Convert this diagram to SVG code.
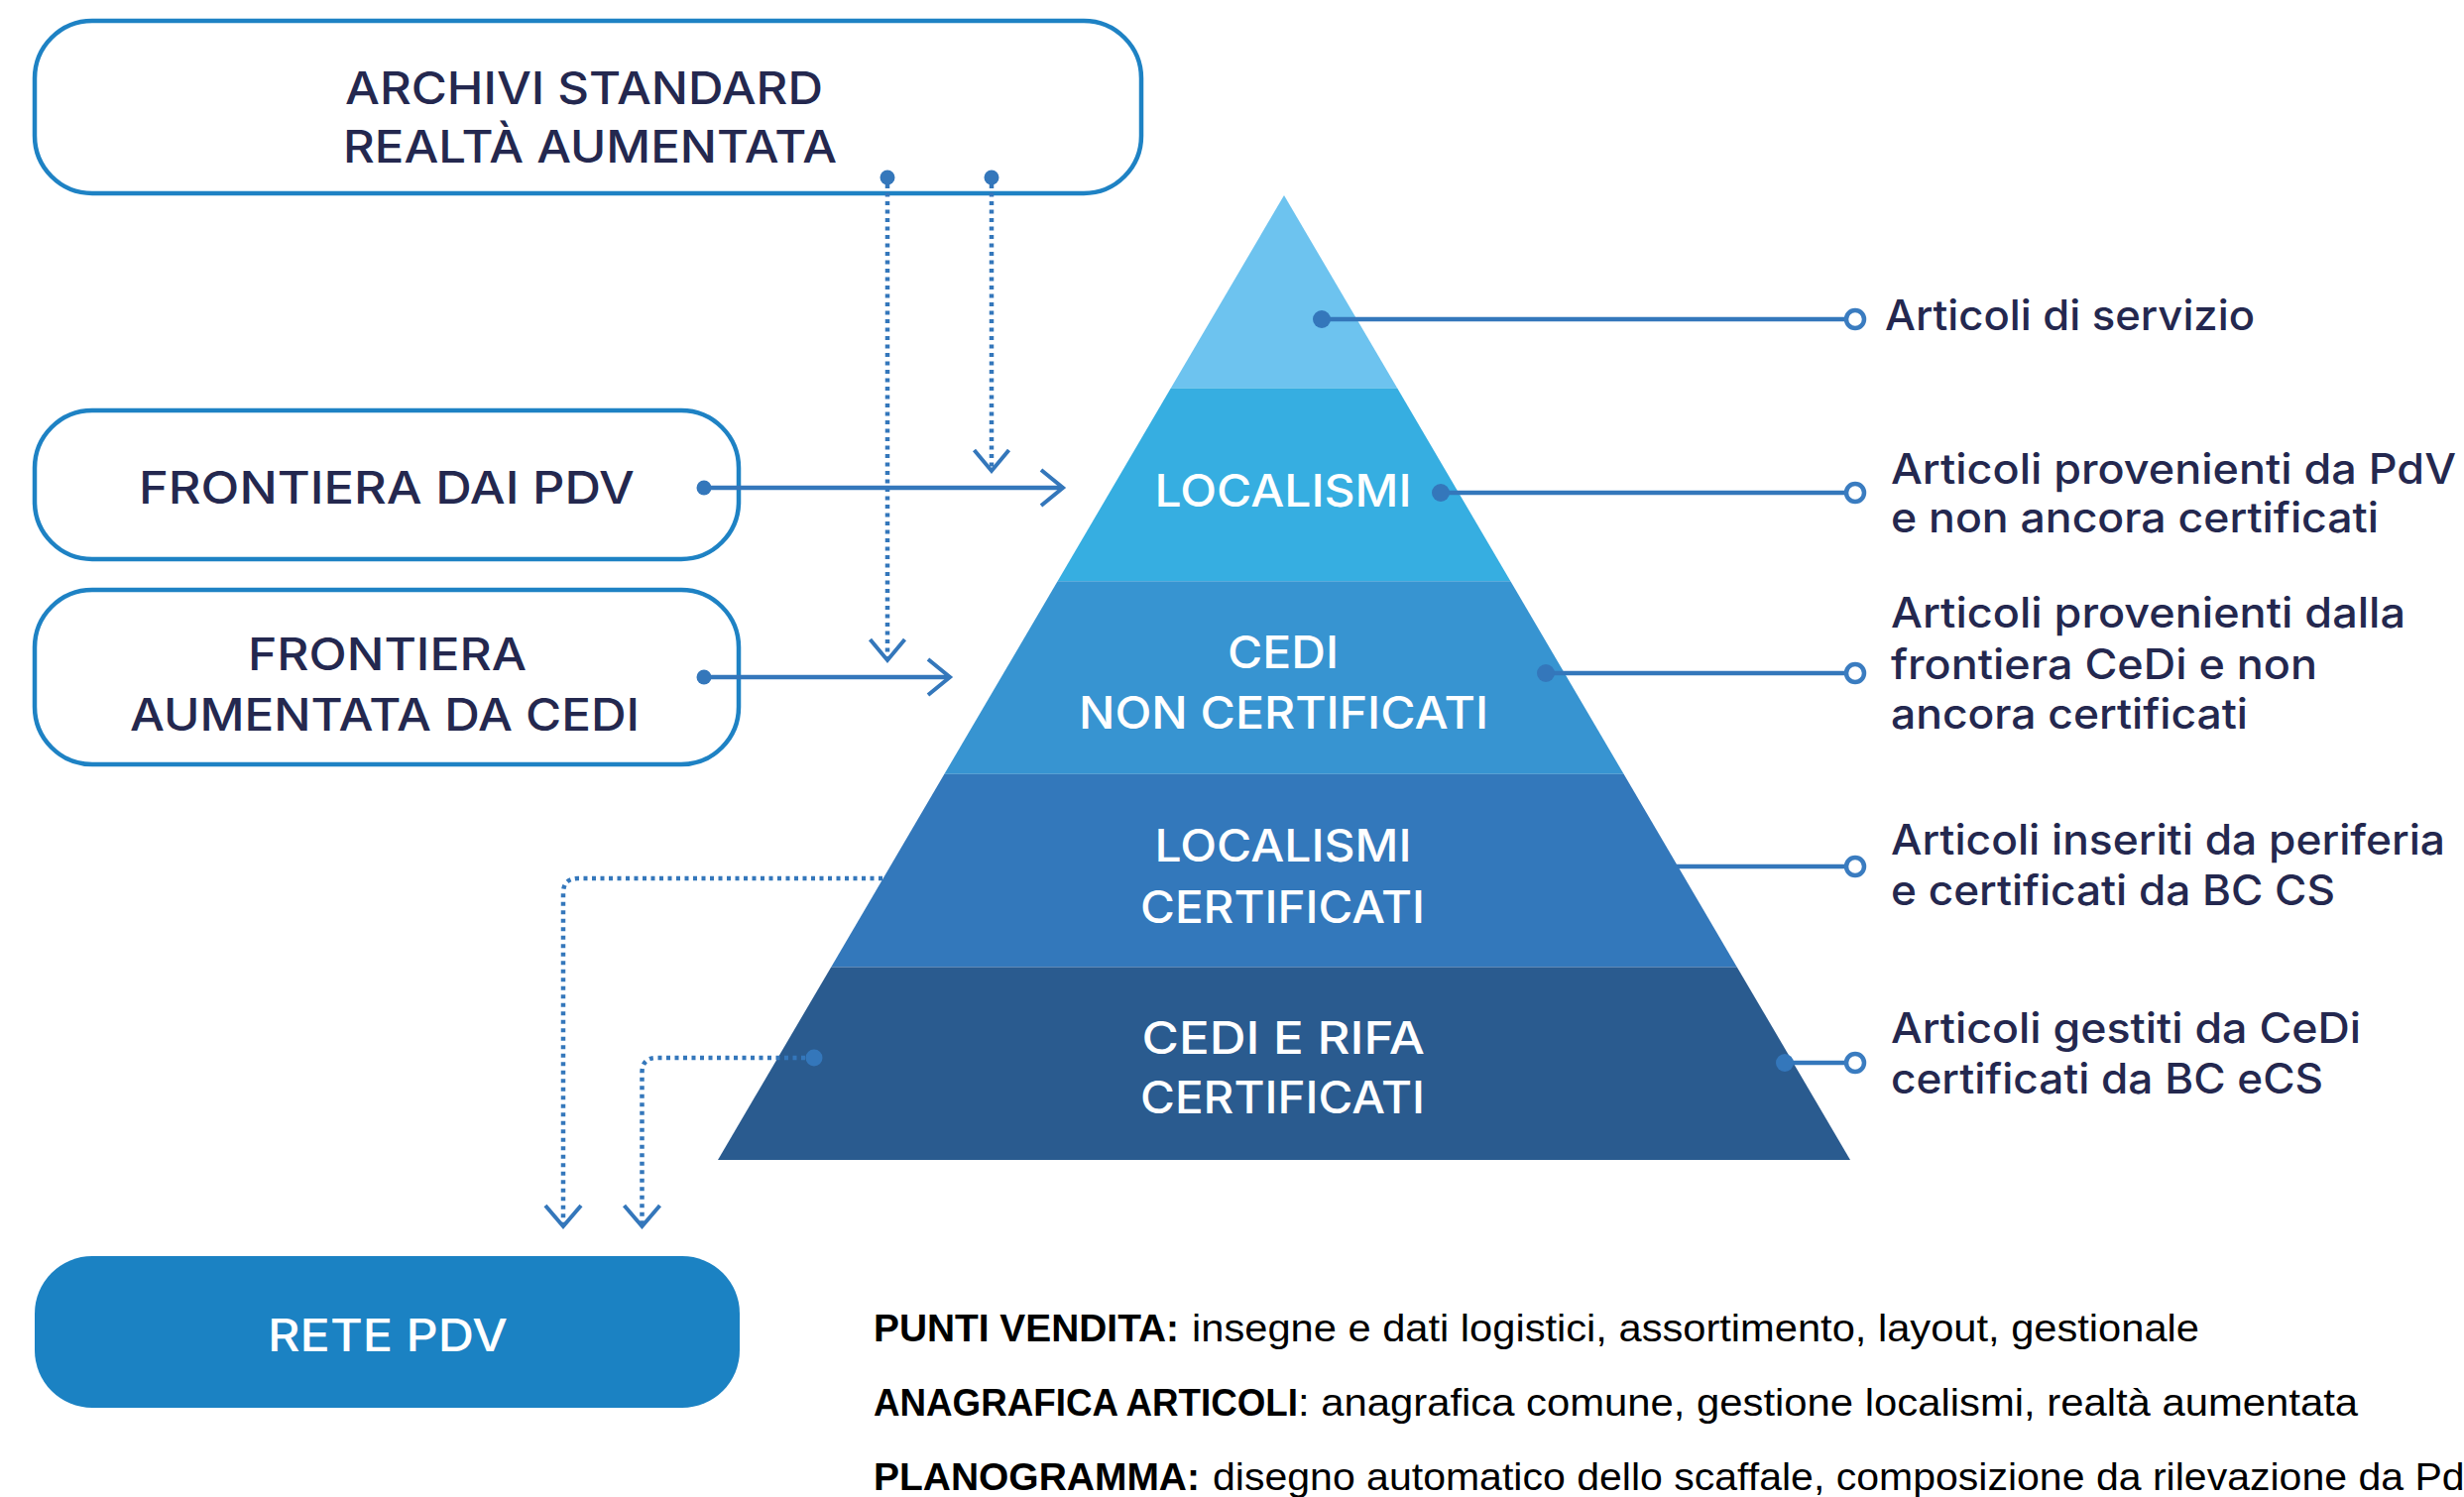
<svg xmlns="http://www.w3.org/2000/svg" width="2485" height="1510" viewBox="0 0 2485 1510">
<style>
.box{fill:#fff;stroke:#1e82c4;stroke-width:4.5}
.lbl{font-family:Inter,"Noto Sans","Liberation Sans",sans-serif;font-weight:500;font-size:45px;fill:#24284f}
.wl{font-family:Inter,"Noto Sans","Liberation Sans",sans-serif;font-weight:500;font-size:45px;fill:#fff}
.rt{font-family:Inter,"Noto Sans","Liberation Sans",sans-serif;font-weight:500;font-size:42px;fill:#24284f}
.bt{font-family:"Liberation Sans",Arial,sans-serif;font-size:38px;fill:#000}
.b{font-weight:bold}
.ln{fill:none;stroke:#3477bb;stroke-width:4.5}
.dt{fill:none;stroke:#3477bb;stroke-width:4.5;stroke-dasharray:4 4.5}
.ah{fill:none;stroke:#3477bb;stroke-width:4;stroke-linejoin:miter}
.dot{fill:#3477bb}
.oc{fill:#fff;stroke:#3a7cc0;stroke-width:4.5}
</style>
<rect width="2485" height="1510" fill="#fff"/>

<g id="pyramid">
<polygon points="1295,197 1409.2,391.6 1180.8,391.6" fill="#6dc3ef"/>
<polygon points="1180.8,391.6 1409.2,391.6 1523.4,586.2 1066.6,586.2" fill="#36aee1"/>
<polygon points="1066.6,586.2 1523.4,586.2 1637.6,780.8 952.4,780.8" fill="#3794d1"/>
<polygon points="952.4,780.8 1637.6,780.8 1751.8,975.4 838.2,975.4" fill="#3378bb"/>
<polygon points="838.2,975.4 1751.8,975.4 1866,1170 724,1170" fill="#2a5b8f"/>
</g>
<g id="band-localismi"><text class="wl" x="1164.5" y="511" textLength="259" lengthAdjust="spacingAndGlyphs">LOCALISMI</text></g>
<g id="band-cedi-non-cert">
<text class="wl" x="1238" y="674" textLength="112" lengthAdjust="spacingAndGlyphs">CEDI</text>
<text class="wl" x="1088" y="735" textLength="413" lengthAdjust="spacingAndGlyphs">NON CERTIFICATI</text>
</g>
<g id="band-localismi-cert">
<text class="wl" x="1164.5" y="869" textLength="259" lengthAdjust="spacingAndGlyphs">LOCALISMI</text>
<text class="wl" x="1150" y="931" textLength="287" lengthAdjust="spacingAndGlyphs">CERTIFICATI</text>
</g>
<g id="band-cedi-rifa">
<text class="wl" x="1151.5" y="1063" textLength="285.5" lengthAdjust="spacingAndGlyphs">CEDI E RIFA</text>
<text class="wl" x="1150" y="1123" textLength="287" lengthAdjust="spacingAndGlyphs">CERTIFICATI</text>
</g>

<g id="archivi">
<rect class="box" x="35" y="21" width="1116" height="174" rx="58" ry="58"/>
<text class="lbl" x="348" y="105" textLength="482" lengthAdjust="spacingAndGlyphs">ARCHIVI STANDARD</text>
<text class="lbl" x="346" y="164" textLength="498" lengthAdjust="spacingAndGlyphs">REALTÀ AUMENTATA</text>
</g>
<g id="frontiera-pdv">
<rect class="box" x="35" y="414" width="710" height="150" rx="58" ry="58"/>
<text class="lbl" x="140" y="507.5" textLength="500" lengthAdjust="spacingAndGlyphs">FRONTIERA DAI PDV</text>
</g>
<g id="frontiera-cedi">
<rect class="box" x="35" y="595" width="710" height="176" rx="58" ry="58"/>
<text class="lbl" x="250" y="676" textLength="281" lengthAdjust="spacingAndGlyphs">FRONTIERA</text>
<text class="lbl" x="131" y="737" textLength="514" lengthAdjust="spacingAndGlyphs">AUMENTATA DA CEDI</text>
</g>
<g id="rete-pdv">
<rect x="35" y="1267" width="711" height="153" rx="58" ry="58" fill="#1b82c3"/>
<text class="wl" x="270" y="1363" textLength="242" lengthAdjust="spacingAndGlyphs">RETE PDV</text>
</g>

<g id="right-labels">
<text class="rt" x="1901" y="333" textLength="373" lengthAdjust="spacingAndGlyphs">Articoli di servizio</text>
<text class="rt" x="1907" y="488" textLength="570" lengthAdjust="spacingAndGlyphs">Articoli provenienti da PdV</text>
<text class="rt" x="1907" y="537" textLength="492" lengthAdjust="spacingAndGlyphs">e non ancora certificati</text>
<text class="rt" x="1907" y="633" textLength="519" lengthAdjust="spacingAndGlyphs">Articoli provenienti dalla</text>
<text class="rt" x="1907" y="685" textLength="430" lengthAdjust="spacingAndGlyphs">frontiera CeDi e non</text>
<text class="rt" x="1907" y="735" textLength="360" lengthAdjust="spacingAndGlyphs">ancora certificati</text>
<text class="rt" x="1907" y="862" textLength="559" lengthAdjust="spacingAndGlyphs">Articoli inseriti da periferia</text>
<text class="rt" x="1907" y="913" textLength="448" lengthAdjust="spacingAndGlyphs">e certificati da BC CS</text>
<text class="rt" x="1907" y="1052" textLength="474" lengthAdjust="spacingAndGlyphs">Articoli gestiti da CeDi</text>
<text class="rt" x="1907" y="1103" textLength="436" lengthAdjust="spacingAndGlyphs">certificati da BC eCS</text>
</g>

<g id="notes">
<text class="bt b" x="881" y="1353" textLength="308" lengthAdjust="spacingAndGlyphs">PUNTI VENDITA:</text>
<text class="bt" x="1202" y="1353" textLength="1016" lengthAdjust="spacingAndGlyphs">insegne e dati logistici, assortimento, layout, gestionale</text>
<text class="bt b" x="881" y="1428" textLength="428" lengthAdjust="spacingAndGlyphs">ANAGRAFICA ARTICOLI</text>
<text class="bt" x="1309" y="1428" textLength="1069" lengthAdjust="spacingAndGlyphs">: anagrafica comune, gestione localismi, realtà aumentata</text>
<text class="bt b" x="881" y="1503" textLength="329" lengthAdjust="spacingAndGlyphs">PLANOGRAMMA:</text>
<text class="bt" x="1223" y="1503" textLength="1290" lengthAdjust="spacingAndGlyphs">disegno automatico dello scaffale, composizione da rilevazione da PdV</text>
</g>

<g id="connectors">
<path class="dt" d="M895,186 V664"/>
<path class="ah" d="M877.5,645 L895,666 L912.5,645"/>
<path class="dt" d="M1000,186 V473"/>
<path class="ah" d="M982.5,454 L1000,475 L1017.5,454"/>
<circle class="dot" cx="895" cy="179" r="7.5"/>
<circle class="dot" cx="1000" cy="179" r="7.5"/>
<path class="ln" d="M710,492 H1070"/>
<path class="ah" d="M1050,474 L1072,492 L1050,510"/>
<circle class="dot" cx="710" cy="492" r="7.5"/>
<path class="ln" d="M710,683 H956"/>
<path class="ah" d="M936,665 L958,683 L936,701"/>
<circle class="dot" cx="710" cy="683" r="7.5"/>
<path class="ln" d="M1333,322 H1862"/>
<circle class="dot" cx="1333" cy="322" r="9"/>
<circle class="oc" cx="1871" cy="322" r="9"/>
<path class="ln" d="M1453,497 H1862"/>
<circle class="dot" cx="1453" cy="497" r="9"/>
<circle class="oc" cx="1871" cy="497" r="9"/>
<path class="ln" d="M1559,679 H1862"/>
<circle class="dot" cx="1559" cy="679" r="9"/>
<circle class="oc" cx="1871" cy="679" r="9"/>
<path class="ln" d="M1691,874 H1862"/>
<circle class="oc" cx="1871" cy="874" r="9"/>
<path class="ln" d="M1800,1072 H1862"/>
<circle class="dot" cx="1800" cy="1072" r="9"/>
<circle class="oc" cx="1871" cy="1072" r="9"/>
<path class="dt" d="M890,886 H583 Q568,886 568,901 V1235"/>
<path class="ah" d="M550,1216 L568,1237 L586,1216"/>
<path class="dt" d="M812,1067 H662 Q647.5,1067 647.5,1082 V1235"/>
<path class="ah" d="M629.5,1216 L647.5,1237 L665.5,1216"/>
<circle class="dot" cx="821" cy="1067" r="8.5"/>
</g>
</svg>
